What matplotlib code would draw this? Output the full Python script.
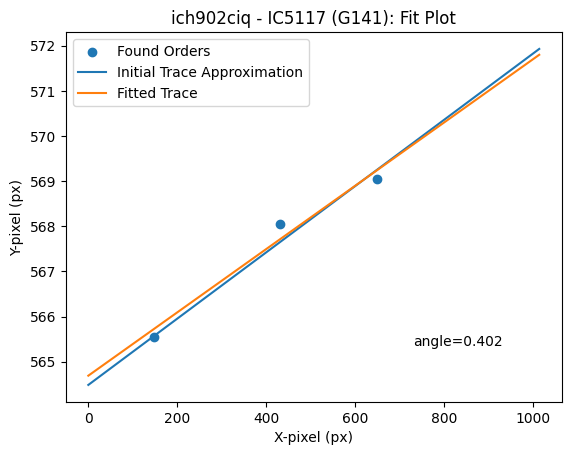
import matplotlib
matplotlib.use("Agg")
import matplotlib.pyplot as plt

# found order positions
order_x = [148, 431, 649]
order_y = [565.55, 568.04, 569.04]

# trace endpoints
trace_x = [0, 1014]
initial_y = [564.485, 571.93]
fitted_y = [564.69, 571.80]

angle = 0.402


def main():
    fig, ax = plt.subplots(figsize=(6.4, 4.8), dpi=100)
    ax.scatter(order_x, order_y, label="Found Orders")
    ax.plot(trace_x, initial_y, label="Initial Trace Approximation")
    ax.plot(trace_x, fitted_y, label="Fitted Trace")
    ax.text(0.7, 0.15, f"angle={angle:.3f}", transform=ax.transAxes)
    ax.set_xlabel("X-pixel (px)")
    ax.set_ylabel("Y-pixel (px)")
    ax.set_title("ich902ciq - IC5117 (G141): Fit Plot")
    ax.legend(loc="upper left")
    fig.savefig("out.png", dpi=100, bbox_inches="tight")


if __name__ == "__main__":
    main()
